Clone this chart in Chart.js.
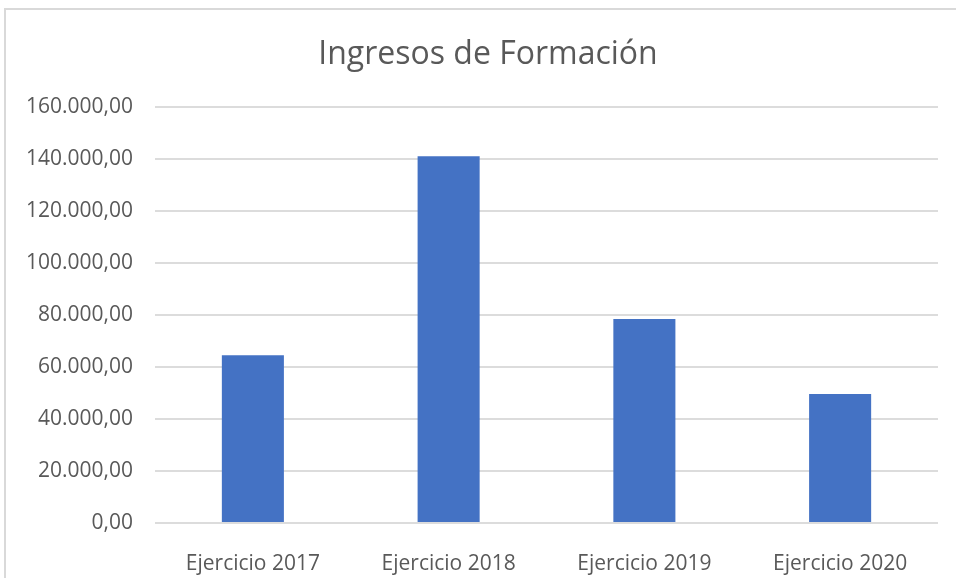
<!DOCTYPE html>
<html>
<head>
<meta charset="utf-8">
<script src="https://cdn.jsdelivr.net/npm/chart.js@4.4.1/dist/chart.umd.min.js"></script>
<style>
  html, body { margin: 0; padding: 0; background: #fff; }
  body { width: 956px; height: 578px; position: relative; overflow: hidden; }
  .marco {
    position: absolute; left: 4px; top: 8px; width: 960px; height: 580px;
    border-left: 2px solid #d9d9d9; border-top: 2px solid #d9d9d9;
  }
  #myChart { position: absolute; left: 0; top: 0; }
</style>
</head>
<body>
<div class="marco"></div>
<canvas id="myChart" width="956" height="578"></canvas>
<script>
const categorias = ['Ejercicio 2017', 'Ejercicio 2018', 'Ejercicio 2019', 'Ejercicio 2020'];
const ingresos = [64600, 141200, 78500, 49700];
const ticksY = [0, 20000, 40000, 60000, 80000, 100000, 120000, 140000, 160000];

// formato 160.000,00
const formatoEs = (v) => {
  const partes = Number(v).toFixed(2).split('.');
  const entero = partes[0].replace(/\B(?=(\d{3})+(?!\d))/g, '.');
  return `${entero},${partes[1]}`;
};

const gris = '#595959';
const fuente = "'Open Sans', sans-serif";

// el titulo del original esta centrado en el marco, no en el canvas
const moverTitulo = {
  id: 'moverTitulo',
  afterLayout: (chart) => {
    if (chart.titleBlock) chart.titleBlock.left += 38;
  },
};

const ctx = document.getElementById('myChart');
new Chart(ctx, {
  type: 'bar',
  data: {
    labels: categorias,
    datasets: [
      {
        data: ingresos,
        backgroundColor: '#4472c4',
        barPercentage: 0.317,
        categoryPercentage: 1,
      },
    ],
  },
  plugins: [moverTitulo],
  options: {
    responsive: false,
    animation: false,
    layout: {
      padding: { left: 0, right: 18, top: 0, bottom: 0 },
    },
    plugins: {
      legend: { display: false },
      tooltip: { enabled: false },
      title: {
        display: true,
        text: 'Ingresos de Formación',
        color: gris,
        font: { family: fuente, size: 32, weight: 'normal' },
        padding: { top: 36, bottom: 33 },
      },
    },
    scales: {
      y: {
        min: 0,
        max: 160000,
        afterFit: (scale) => { scale.width = 155; },
        afterBuildTicks: (scale) => {
          scale.ticks = ticksY.map((v) => ({ value: v }));
        },
        border: { display: false },
        grid: {
          color: '#dcdcdc',
          lineWidth: 2,
          drawTicks: false,
        },
        ticks: {
          color: gris,
          padding: 22,
          font: { family: fuente, size: 21 },
          callback: (v) => formatoEs(v),
        },
      },
      x: {
        afterFit: (scale) => { scale.height = 55; },
        border: { display: false },
        grid: { display: false },
        ticks: {
          color: gris,
          padding: 20,
          maxRotation: 0,
          font: { family: fuente, size: 21 },
        },
      },
    },
  },
});
</script>
</body>
</html>
